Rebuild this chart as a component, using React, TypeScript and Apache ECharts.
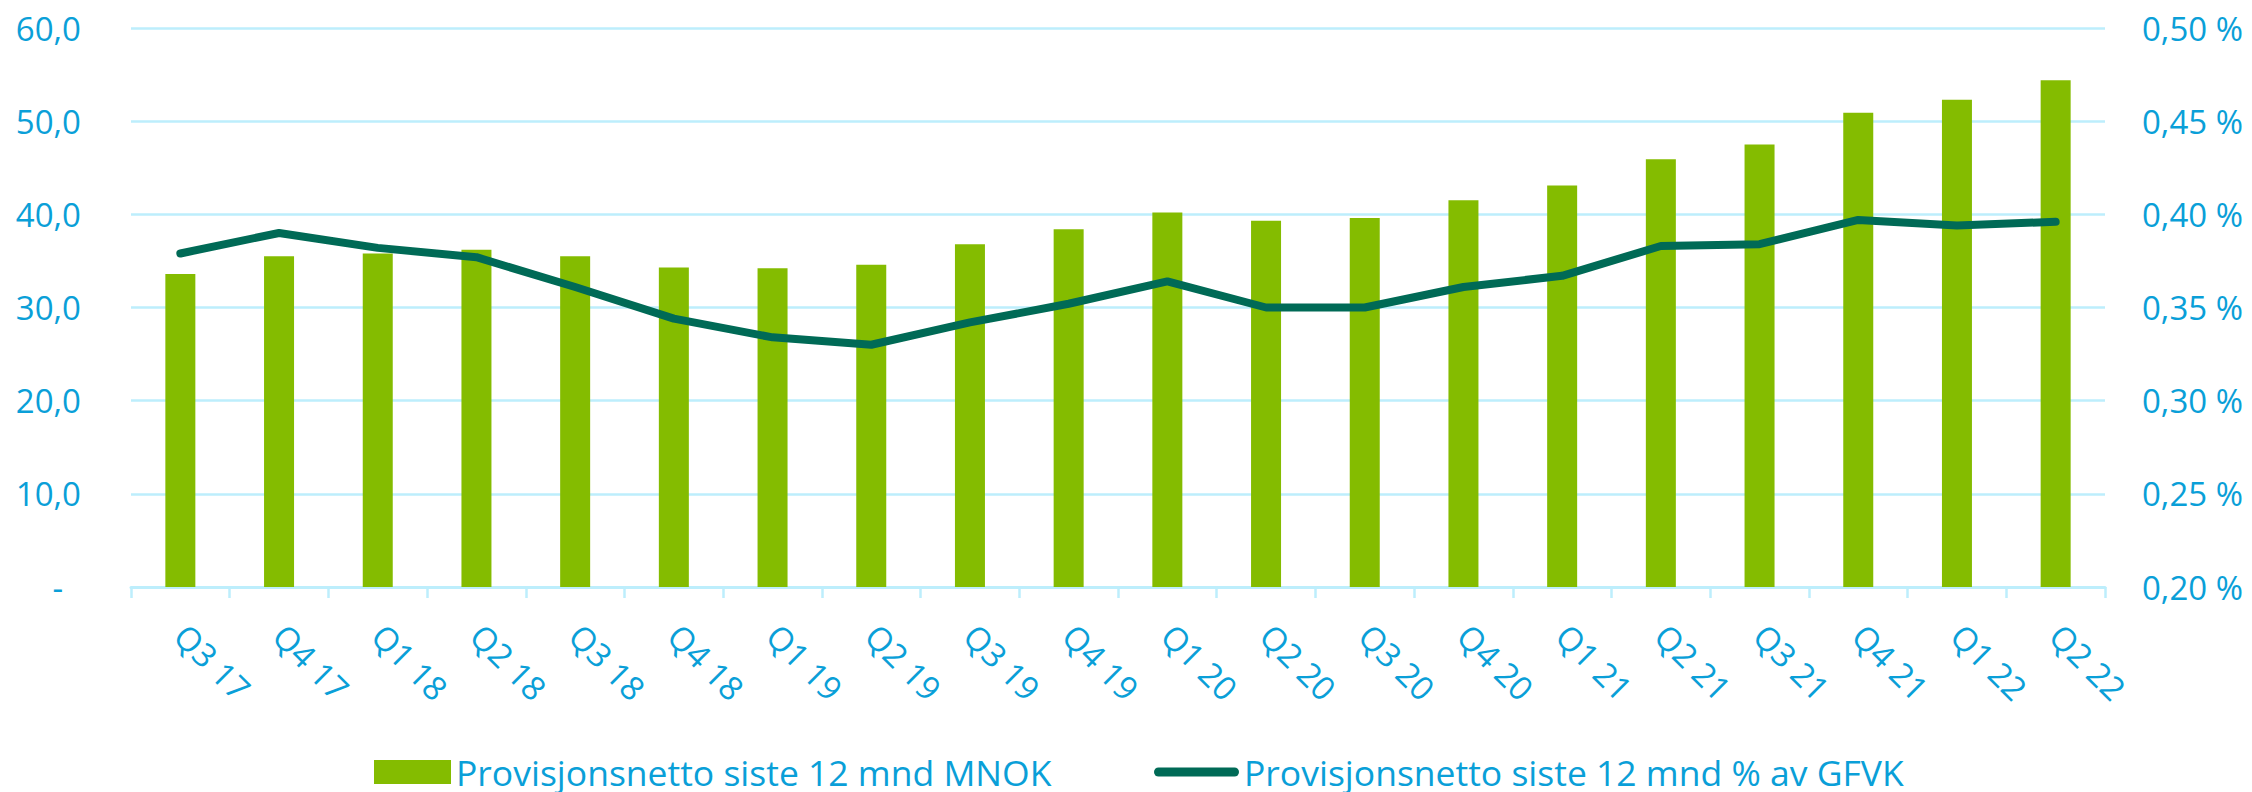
import React, { useEffect, useRef } from "react";
import * as echarts from "echarts";

const categories = ["Q3 17", "Q4 17", "Q1 18", "Q2 18", "Q3 18", "Q4 18", "Q1 19", "Q2 19", "Q3 19", "Q4 19", "Q1 20", "Q2 20", "Q3 20", "Q4 20", "Q1 21", "Q2 21", "Q3 21", "Q4 21", "Q1 22", "Q2 22"];
const barValues = [33.6, 35.5, 35.8, 36.2, 35.5, 34.3, 34.2, 34.6, 36.8, 38.4, 40.2, 39.3, 39.6, 41.5, 43.1, 45.9, 47.5, 50.9, 52.3, 54.4];
const lineValues = [0.379, 0.39, 0.382, 0.377, 0.361, 0.344, 0.334, 0.33, 0.342, 0.352, 0.364, 0.35, 0.35, 0.361, 0.367, 0.383, 0.384, 0.397, 0.394, 0.396];
const barName = "Provisjonsnetto siste 12 mnd MNOK";
const lineName = "Provisjonsnetto siste 12 mnd % av GFVK";

const BLUE = "#0A9FD8";
const GRID = "#BDEEFC";
const GREEN = "#84BC00";
const DARK = "#006A56";
const FONT = "'Open Sans', 'Noto Sans', sans-serif";

export default function App() {
  const ref = useRef<HTMLDivElement>(null);
  useEffect(() => {
    if (!ref.current) return;
    const chart = echarts.init(ref.current, undefined, { renderer: "svg" });
    chart.setOption({
      animation: false,
      backgroundColor: "#ffffff",
      grid: { left: 131, right: 147, top: 28, bottom: 205, containLabel: false },
      legend: [
        {
          left: 369,
          top: 749,
          itemWidth: 77,
          itemHeight: 24,
          data: [{ name: barName, icon: "rect" }],
          textStyle: { color: BLUE, fontSize: 35.5, lineHeight: 36, fontFamily: FONT },
        },
        {
          left: 1149,
          top: 749,
          itemWidth: 85,
          itemHeight: 9,
          data: [
            {
              name: lineName,
              icon: "path://M4.5,0 H80.5 A4.5,4.5 0 0 1 80.5,9 H4.5 A4.5,4.5 0 0 1 4.5,0 Z",
              itemStyle: { color: DARK, borderWidth: 0 },
            },
          ],
          textStyle: { color: BLUE, fontSize: 35.5, lineHeight: 36, fontFamily: FONT },
        },
      ],
      xAxis: {
        type: "category",
        data: categories,
        boundaryGap: true,
        axisLine: { show: true, lineStyle: { color: GRID, width: 3 } },
        axisTick: { show: true, length: 11, lineStyle: { color: GRID, width: 2.5 } },
        axisLabel: {
          rotate: -45,
          margin: 43,
          color: BLUE,
          fontSize: 33,
          fontFamily: FONT,
          interval: 0,
        },
      },
      yAxis: [
        {
          type: "value",
          min: 0,
          max: 60,
          interval: 10,
          axisLine: { show: false },
          axisTick: { show: false },
          splitLine: { show: true, lineStyle: { color: GRID, width: 2.5 } },
          axisLabel: {
            margin: 50,
            color: BLUE,
            fontSize: 33,
            fontFamily: FONT,
            formatter: (v: number) => (v === 0 ? "{d|-}" : v.toFixed(1).replace(".", ",")),
            rich: { d: { color: BLUE, fontSize: 33, fontFamily: FONT, padding: [0, 18, 0, 0] } },
          },
        },
        {
          type: "value",
          min: 0.2,
          max: 0.5,
          interval: 0.05,
          axisLine: { show: false },
          axisTick: { show: false },
          splitLine: { show: false },
          axisLabel: {
            margin: 37,
            color: BLUE,
            fontSize: 33,
            fontFamily: FONT,
            formatter: (v: number) => v.toFixed(2).replace(".", ",") + " %",
          },
        },
      ],
      series: [
        {
          name: barName,
          type: "bar",
          yAxisIndex: 0,
          data: barValues,
          barWidth: 30,
          itemStyle: { color: GREEN },
        },
        {
          name: lineName,
          type: "line",
          yAxisIndex: 1,
          data: lineValues,
          symbol: "none",
          itemStyle: { color: DARK },
          lineStyle: { color: DARK, width: 8, cap: "round", join: "round" },
        },
      ],
    });
    return () => chart.dispose();
  }, []);
  return (
    <div
      ref={ref}
      style={{ position: "absolute", left: 0, top: 0, width: 2252, height: 792, background: "#fff" }}
    />
  );
}
